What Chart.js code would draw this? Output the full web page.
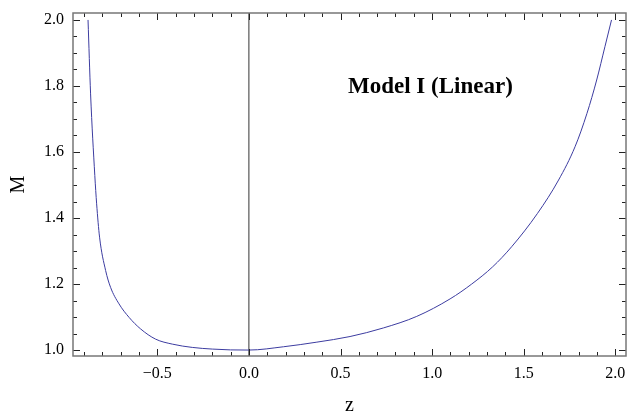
<!DOCTYPE html>
<html>
<head>
<meta charset="utf-8">
<script src="https://cdn.jsdelivr.net/npm/chart.js@4.4.1/dist/chart.umd.min.js"></script>
<style>
  html, body { margin: 0; padding: 0; background: #fff; }
  #wrap { width: 628px; height: 412px; position: relative; }
</style>
</head>
<body>
<div id="wrap"><canvas id="plot"></canvas></div>
<script>
// valores
const zValues = [-0.878, -0.864, -0.841, -0.831, -0.815, -0.782, -0.755, -0.709, -0.654, -0.591,
                 -0.509, -0.418, -0.309, -0.2, -0.1, 0.0, 0.189, 0.371, 0.552, 0.734,
                 0.916, 1.098, 1.216, 1.33, 1.434, 1.575, 1.69, 1.78, 1.845, 1.898,
                 1.943, 1.979];
const mValues = [2.0, 1.776, 1.529, 1.443, 1.342, 1.241, 1.19, 1.14, 1.099, 1.064,
                 1.033, 1.018, 1.008, 1.003, 1.0005, 1.0, 1.01, 1.024, 1.041, 1.067,
                 1.102, 1.155, 1.2, 1.252, 1.313, 1.414, 1.515, 1.616, 1.717, 1.818,
                 1.919, 2.0];
const xTicks = [-0.5, 0.0, 0.5, 1.0, 1.5, 2.0];
const yTicks = [1.0, 1.2, 1.4, 1.6, 1.8, 2.0];
const xMinorStep = 0.1;
const yMinorStep = 0.05;

const X_MIN = -0.96, X_MAX = 2.058;
const Y_MIN = 0.982, Y_MAX = 2.021;

const serif = '"Liberation Serif", "DejaVu Serif", serif';

const curve = zValues.map((z, i) => ({ x: z, y: mValues[i] }));

// marcas del marco estilo Mathematica (hacia dentro)
const frameTicks = {
    id: 'frameTicks',
    afterDatasetsDraw(chart) {
        const ctx = chart.ctx;
        const a = chart.chartArea;
        const xs = chart.scales.x, ys = chart.scales.y;
        ctx.save();
        ctx.lineWidth = 1;
        ctx.strokeStyle = '#222';
        for (let k = -20; k <= 30; k++) {
            const v = +(k * xMinorStep).toFixed(2);
            if (v < X_MIN || v > X_MAX) continue;
            const major = xTicks.some(t => Math.abs(t - v) < 1e-6);
            const len = major ? 7 : 4;
            const px = Math.round(xs.getPixelForValue(v)) + 0.5;
            ctx.beginPath();
            ctx.moveTo(px, a.bottom); ctx.lineTo(px, a.bottom - len);
            ctx.moveTo(px, a.top); ctx.lineTo(px, a.top + len);
            ctx.stroke();
        }
        for (let k = 0; k <= 50; k++) {
            const v = +(k * yMinorStep).toFixed(3);
            if (v < Y_MIN || v > Y_MAX) continue;
            const major = yTicks.some(t => Math.abs(t - v) < 1e-6);
            const len = major ? 7 : 4;
            const py = Math.round(ys.getPixelForValue(v)) + 0.5;
            ctx.beginPath();
            ctx.moveTo(a.left, py); ctx.lineTo(a.left + len, py);
            ctx.moveTo(a.right, py); ctx.lineTo(a.right - len, py);
            ctx.stroke();
        }
        // marco
        ctx.strokeStyle = '#777';
        ctx.lineWidth = 1.5;
        ctx.strokeRect(a.left, a.top, a.right - a.left, a.bottom - a.top);

        // titulos de ejes y texto
        ctx.fillStyle = '#000';
        ctx.font = '20px ' + serif;
        ctx.textAlign = 'center';
        ctx.textBaseline = 'alphabetic';
        ctx.fillText('z', (a.left + a.right) / 2, 411);
        ctx.save();
        ctx.translate(24, (a.top + a.bottom) / 2);
        ctx.rotate(-Math.PI / 2);
        ctx.fillText('M', 0, 0);
        ctx.restore();
        ctx.font = 'bold 23px ' + serif;
        ctx.textAlign = 'left';
        ctx.fillText('Model I (Linear)', 348, 93);
        ctx.restore();
    }
};

const ctx = document.getElementById('plot').getContext('2d');
new Chart(ctx, {
    type: 'scatter',
    data: {
        datasets: [
            {
                data: curve,
                showLine: true,
                borderColor: 'rgb(60, 60, 160)',
                borderWidth: 1,
                pointRadius: 0,
                cubicInterpolationMode: 'monotone'
            },
            {
                data: [{ x: 0, y: Y_MIN }, { x: 0, y: Y_MAX }],
                showLine: true,
                borderColor: '#333',
                borderWidth: 1,
                pointRadius: 0
            }
        ]
    },
    options: {
        responsive: true,
        maintainAspectRatio: false,
        animation: false,
        layout: { padding: { left: 0, right: 2, top: 13, bottom: 0 } },
        plugins: { legend: { display: false }, tooltip: { enabled: false } },
        scales: {
            x: {
                type: 'linear',
                min: X_MIN,
                max: X_MAX,
                afterBuildTicks: s => { s.ticks = xTicks.map(v => ({ value: v })); },
                afterFit: s => { s.height = 56; s.paddingLeft = 0; s.paddingRight = 0; },
                grid: { display: false, drawTicks: false },
                border: { display: false },
                ticks: {
                    padding: 8,
                    color: '#000',
                    font: { family: serif, size: 16 },
                    callback: v => v.toFixed(1).replace('-', '\u2212')
                }
            },
            y: {
                type: 'linear',
                min: Y_MIN,
                max: Y_MAX,
                afterBuildTicks: s => { s.ticks = yTicks.map(v => ({ value: v })); },
                afterFit: s => { s.width = 73; s.paddingTop = 0; s.paddingBottom = 0; },
                grid: { display: false, drawTicks: false },
                border: { display: false },
                ticks: {
                    padding: 9,
                    color: '#000',
                    font: { family: serif, size: 16 },
                    callback: v => v.toFixed(1)
                }
            }
        }
    },
    plugins: [frameTicks]
});
</script>
</body>
</html>
